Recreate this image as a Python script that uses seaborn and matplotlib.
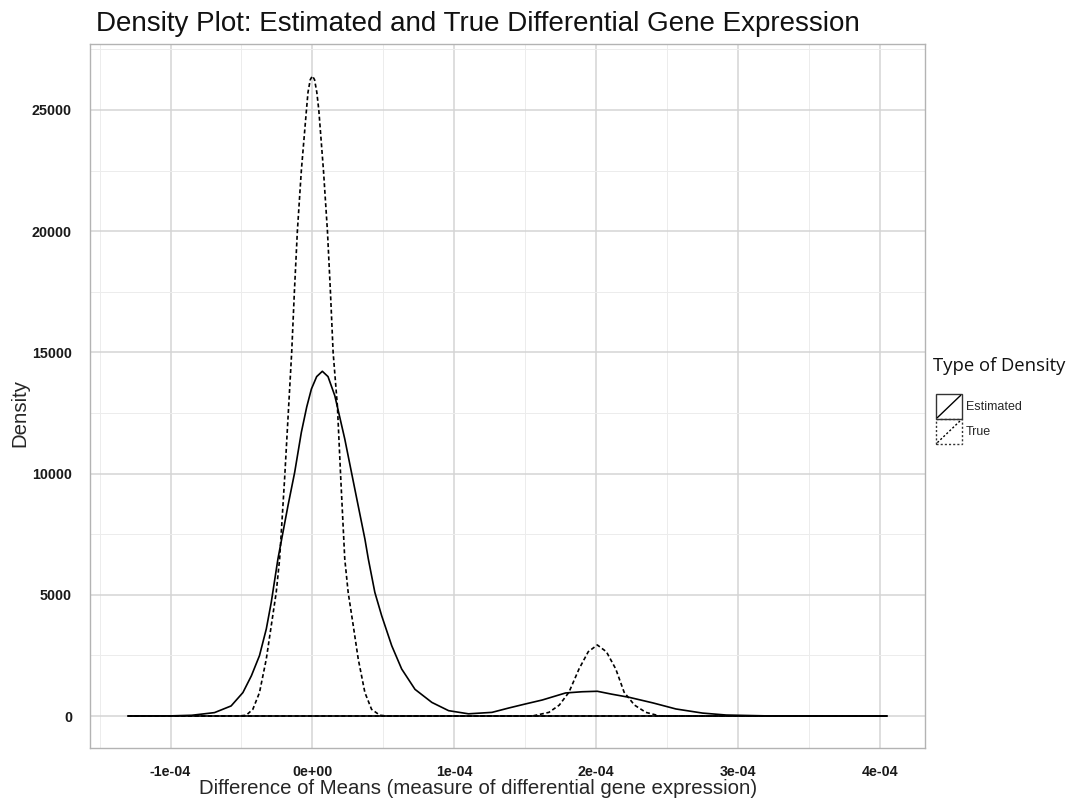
import numpy as np
import pandas as pd
import matplotlib
matplotlib.use("Agg")
import matplotlib.pyplot as plt
import seaborn as sns
from matplotlib.patches import Rectangle
from matplotlib.lines import Line2D
from matplotlib.legend_handler import HandlerBase
from matplotlib.ticker import FixedLocator

# Values (x in units of 1e-4)
est_x = [-1.30, -1.00, -0.85, -0.69, -0.573, -0.49, -0.43, -0.373, -0.325, -0.29,
         -0.243, -0.172, -0.125, -0.078, -0.04, -0.007, 0.03, 0.07, 0.11, 0.158,
         0.228, 0.299, 0.37, 0.394, 0.44, 0.488, 0.559, 0.629, 0.723, 0.842,
         0.96, 1.10, 1.266, 1.384, 1.50, 1.62, 1.784, 1.90, 2.008, 2.11,
         2.233, 2.40, 2.562, 2.75, 2.916, 3.20, 3.60, 4.05]
est_y = [0, 5, 30, 140, 415, 965, 1660, 2490, 3590, 4690,
         6480, 8680, 10050, 11700, 12750, 13490, 14000, 14220, 14000, 13210,
         11430, 9360, 7300, 6480, 5100, 4140, 2900, 1940, 1100, 560,
         220, 90, 150, 330, 495, 660, 950, 1000, 1020, 900,
         770, 540, 290, 120, 40, 5, 0, 0]

true_x = [-1.30, -0.52, -0.467, -0.42, -0.373, -0.325, -0.29, -0.255, -0.231, -0.196,
          -0.17, -0.146, -0.127, -0.106, -0.078, -0.042, -0.031, -0.015, 0.0, 0.015,
          0.031, 0.045, 0.078, 0.106, 0.127, 0.146, 0.176, 0.20, 0.228, 0.252,
          0.288, 0.323, 0.37, 0.417, 0.476, 0.53, 1.55, 1.667, 1.74, 1.808,
          1.879, 1.944, 2.008, 2.072, 2.138, 2.197, 2.27, 2.35, 2.45, 4.05]
true_y = [0, 0, 30, 275, 965, 2350, 3725, 5100, 6480, 9780,
          12500, 15000, 17500, 20000, 22500, 25000, 25730, 26250, 26400, 26250,
          25730, 25000, 22500, 20000, 17500, 15000, 12800, 9780, 6480, 5100,
          3725, 2350, 965, 275, 30, 0, 0, 150, 450, 980,
          1940, 2650, 2930, 2650, 1940, 980, 450, 150, 0, 0]

x_ticks = [-1e-4, 0, 1e-4, 2e-4, 3e-4, 4e-4]
x_labels = ["-1e-04", "0e+00", "1e-04", "2e-04", "3e-04", "4e-04"]
y_ticks = [0, 5000, 10000, 15000, 20000, 25000]
types = ["Estimated", "True"]

df = pd.concat([
    pd.DataFrame({"x": np.array(est_x) * 1e-4, "density": est_y, "type": types[0]}),
    pd.DataFrame({"x": np.array(true_x) * 1e-4, "density": true_y, "type": types[1]}),
])

dash = (2.4, 1.6)
styles = {"Estimated": "-", "True": (0, dash)}


class BoxKey(HandlerBase):
    # ggplot style density key: outlined box with a diagonal
    def create_artists(self, legend, orig, xd, yd, w, h, fs, trans):
        ls = orig.get_linestyle()
        if ls != "-":
            ls = (0, (1.5, 1.5))
        box = Rectangle((-xd, -yd), w, h, fill=False, ec="#333333", lw=1.0, ls=ls, transform=trans)
        diag = Line2D([-xd + 1, -xd + w - 1], [-yd + 1, h - yd - 1], color="black", lw=1.0, ls=ls, transform=trans)
        return [box, diag]


sns.set_style("white")
plt.rcParams["font.family"] = ["Liberation Sans", "DejaVu Sans"]

fig = plt.figure(figsize=(10.68, 8.01), dpi=100)
ax = fig.add_axes([90 / 1068, 53 / 801, 835 / 1068, 704 / 801])

sns.lineplot(data=df, x="x", y="density", style="type", color="black",
             dashes={"Estimated": "", "True": dash}, estimator=None,
             linewidth=1.2, legend=False, ax=ax)

# geom_density closes the outline along the baseline
for t, g in df.groupby("type"):
    ax.plot([g["x"].min(), g["x"].max()], [0, 0], color="black", lw=1.2, ls=styles[t])

xmin, xmax = df["x"].min(), df["x"].max()
ymax = df["density"].max()
ax.set_xlim(xmin - 0.05 * (xmax - xmin), xmax + 0.05 * (xmax - xmin))
ax.set_ylim(-0.05 * ymax, 1.05 * ymax)

ax.xaxis.set_major_locator(FixedLocator(x_ticks))
ax.set_xticklabels(x_labels)
ax.yaxis.set_major_locator(FixedLocator(y_ticks))
ax.set_yticklabels([str(v) for v in y_ticks])
ax.xaxis.set_minor_locator(FixedLocator([-1.5e-4, -0.5e-4, 0.5e-4, 1.5e-4, 2.5e-4, 3.5e-4]))
ax.yaxis.set_minor_locator(FixedLocator([2500, 7500, 12500, 17500, 22500, 27500]))

ax.grid(True, which="major", color="#d4d4d4", lw=1.1)
ax.grid(True, which="minor", color="#ececec", lw=0.7)
ax.set_axisbelow(True)
ax.tick_params(which="major", length=5, width=0.8, color="#a0a0a0",
               labelsize=10.3, labelcolor="#1a1a1a")
ax.tick_params(axis="x", which="major", pad=7)
ax.tick_params(axis="y", which="major", pad=8)
ax.tick_params(which="minor", length=0)
for lab in ax.get_xticklabels() + ax.get_yticklabels():
    lab.set_fontweight("bold")
for s in ax.spines.values():
    s.set_color("#b3b3b3")
    s.set_linewidth(1.0)

ax.set_xlabel("Difference of Means (measure of differential gene expression)", fontsize=14.7)
ax.set_ylabel("Density", fontsize=14.7)
ax.xaxis.set_label_coords((478 - 90) / 835, -0.044)
ax.yaxis.set_label_coords(-0.0838, 0.476)
ax.yaxis.label.set_va("center")

fig.text(96 / 1068, 1 - 24 / 801, "Density Plot: Estimated and True Differential Gene Expression",
         fontsize=20, ha="left", va="center", color="#111111")

# legend title drawn on its own so the gap to the keys matches
fig.text(933 / 1068, 1 - 366 / 801, "Type of Density", family="Open Sans", fontsize=13.3,
         ha="left", va="center", color="#111111")
handles = [Line2D([], [], color="black", ls="-"), Line2D([], [], color="black", ls="--")]
leg = fig.legend(handles, types, handler_map={Line2D: BoxKey()},
                 loc="upper left", bbox_to_anchor=(936 / 1068, 1 - 394 / 801),
                 frameon=False, fontsize=9, handlelength=2.08, handleheight=2.7,
                 labelspacing=0.0, handletextpad=0.3, borderpad=0, borderaxespad=0)

fig.savefig("out.png", dpi=100)
